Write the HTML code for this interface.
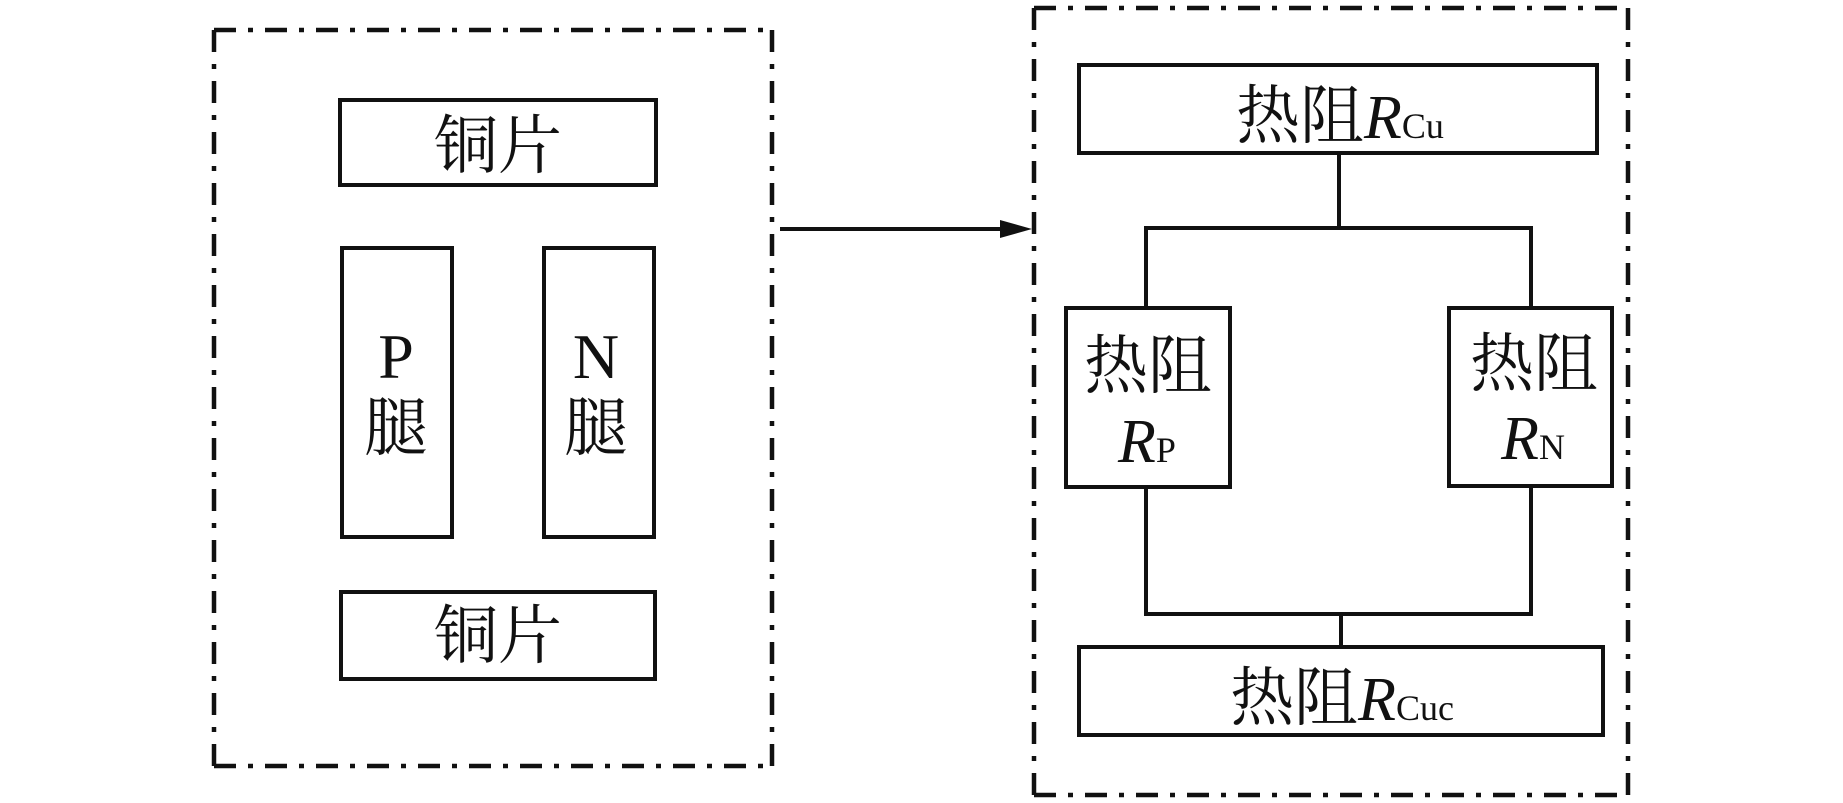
<!DOCTYPE html>
<html>
<head>
<meta charset="utf-8">
<style>
  html, body { margin: 0; padding: 0; background: #ffffff; }
  body { width: 1843px; height: 803px; overflow: hidden; }
  svg { display: block; }
  .cjk { font-family: "Liberation Serif", "Noto Serif CJK SC", "Noto Sans CJK SC", serif; font-size: 64px; fill: #111; }
  .lat { font-family: "Liberation Serif", serif; fill: #111; }
  .R { font-style: italic; font-size: 62px; }
  .sub { font-size: 36px; font-style: normal; }
</style>
</head>
<body>
<svg width="1843" height="803" viewBox="0 0 1843 803" xmlns="http://www.w3.org/2000/svg">
  <rect x="0" y="0" width="1843" height="803" fill="#ffffff"/>

  <!-- Left outer dash-dot box -->
  <g fill="none" stroke="#111" stroke-width="4.5" stroke-dasharray="22 12 5 12">
    <line x1="214" y1="30" x2="772" y2="30"/>
    <line x1="772" y1="30" x2="772" y2="766"/>
    <line x1="214" y1="766" x2="772" y2="766"/>
    <line x1="214" y1="30" x2="214" y2="766"/>
  </g>

  <!-- Right outer dash-dot box -->
  <g fill="none" stroke="#111" stroke-width="4.5" stroke-dasharray="22 12 5 12">
    <line x1="1034" y1="8" x2="1628" y2="8"/>
    <line x1="1628" y1="8" x2="1628" y2="795"/>
    <line x1="1034" y1="795" x2="1628" y2="795"/>
    <line x1="1034" y1="8" x2="1034" y2="795"/>
  </g>

  <!-- Left boxes -->
  <g fill="none" stroke="#111" stroke-width="4">
    <rect x="340" y="100" width="316" height="85"/>
    <rect x="342" y="248" width="110" height="289"/>
    <rect x="544" y="248" width="110" height="289"/>
    <rect x="341" y="592" width="314" height="87"/>
  </g>

  <text class="cjk" x="498" y="168" text-anchor="middle">铜片</text>
  <text class="cjk" x="498" y="658" text-anchor="middle">铜片</text>

  <text class="lat" x="396" y="378" text-anchor="middle" font-size="64">P</text>
  <text class="cjk" x="396" y="450" text-anchor="middle">腿</text>
  <text class="lat" x="596" y="378" text-anchor="middle" font-size="64">N</text>
  <text class="cjk" x="596" y="450" text-anchor="middle">腿</text>

  <!-- Arrow -->
  <line x1="780" y1="229" x2="1004" y2="229" stroke="#111" stroke-width="4"/>
  <polygon points="1000,220 1032,229 1000,238" fill="#111"/>

  <!-- Right network boxes -->
  <g fill="none" stroke="#111" stroke-width="4">
    <rect x="1079" y="65" width="518" height="88"/>
    <rect x="1066" y="308" width="164" height="179"/>
    <rect x="1449" y="308" width="163" height="178"/>
    <rect x="1079" y="647" width="524" height="88"/>
  </g>

  <!-- Connectors -->
  <g fill="none" stroke="#111" stroke-width="4">
    <line x1="1339" y1="153" x2="1339" y2="228"/>
    <line x1="1144" y1="228" x2="1533" y2="228"/>
    <line x1="1146" y1="228" x2="1146" y2="308"/>
    <line x1="1531" y1="228" x2="1531" y2="308"/>
    <line x1="1146" y1="487" x2="1146" y2="614"/>
    <line x1="1531" y1="486" x2="1531" y2="614"/>
    <line x1="1144" y1="614" x2="1533" y2="614"/>
    <line x1="1341" y1="614" x2="1341" y2="647"/>
  </g>

  <!-- Labels right -->
  <text x="1340" y="138" text-anchor="middle"><tspan class="cjk">热阻</tspan><tspan class="lat R">R</tspan><tspan class="lat sub">Cu</tspan></text>

  <text class="cjk" x="1148" y="388" text-anchor="middle">热阻</text>
  <text x="1147" y="462" text-anchor="middle"><tspan class="lat R">R</tspan><tspan class="lat sub">P</tspan></text>

  <text class="cjk" x="1534" y="386" text-anchor="middle">热阻</text>
  <text x="1533" y="459" text-anchor="middle"><tspan class="lat R">R</tspan><tspan class="lat sub">N</tspan></text>

  <text x="1342" y="720" text-anchor="middle"><tspan class="cjk">热阻</tspan><tspan class="lat R">R</tspan><tspan class="lat sub">Cuc</tspan></text>
</svg>
</body>
</html>
